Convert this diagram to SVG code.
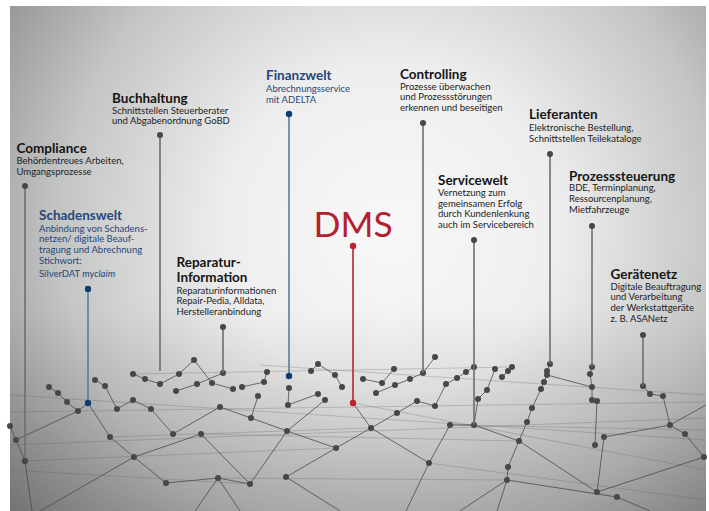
<svg xmlns="http://www.w3.org/2000/svg" width="709" height="511" viewBox="0 0 709 511">
<defs>
<radialGradient id="bg" gradientUnits="userSpaceOnUse" cx="390" cy="230" r="470" fx="390" fy="230">
<stop offset="0" stop-color="#f8f8f8"/>
<stop offset="0.35" stop-color="#eeeeee"/>
<stop offset="0.7" stop-color="#c4c5c5"/>
<stop offset="1" stop-color="#8c8d8d"/>
</radialGradient>
<linearGradient id="shade" x1="0" y1="0" x2="0" y2="1">
<stop offset="0.6" stop-color="#000" stop-opacity="0"/>
<stop offset="1" stop-color="#000" stop-opacity="0.18"/>
</linearGradient>
</defs>
<style>
.t{font-family:Lato,"Open Sans","Liberation Sans",sans-serif;font-weight:700;font-size:13.5px;fill:#151515}
.b{font-family:Lato,"Open Sans","Liberation Sans",sans-serif;font-size:9.5px;fill:#222}
.bl{fill:#27467a}
.e{stroke:#4a4a4a;stroke-width:0.8;fill:none}
.f{stroke:#5a5a5a;stroke-width:0.6;fill:none;stroke-opacity:0.45}
.n{fill:#474747}
.stem{stroke:#6e6e6e;stroke-width:1.6}
.stemb{stroke:#5a7aa0;stroke-width:1.6}
.stemr{stroke:#b8232f;stroke-width:1.6}
</style>
<rect x="0" y="0" width="709" height="511" fill="#fff"/>
<rect x="10" y="6" width="696" height="505" fill="url(#bg)"/>
<rect x="10" y="6" width="696" height="505" fill="url(#shade)"/>

<g id="connectors">
<g class="f">
<line x1="10" y1="412" x2="706" y2="402"/>
<line x1="10" y1="445" x2="706" y2="418"/>
<line x1="10" y1="395" x2="706" y2="440"/>
<line x1="25" y1="461" x2="336" y2="448"/>
<line x1="110" y1="437" x2="371" y2="428"/>
<line x1="201" y1="434" x2="519" y2="441"/>
<line x1="218" y1="478" x2="507" y2="480"/>
<line x1="353" y1="403" x2="706" y2="470"/>
<line x1="133" y1="374" x2="512" y2="367"/>
<line x1="260" y1="365" x2="706" y2="395"/>
<line x1="10" y1="470" x2="250" y2="484"/>
<line x1="429" y1="463" x2="706" y2="500"/>
<line x1="450" y1="425" x2="706" y2="430"/>
</g>
<g class="e">
<polyline points="49,387 58,393 67,402 78,411 88,403 110,437 134,457 166,483 218,478 250,484 287,431 336,448"/>
<polyline points="10,426 16,440 25,461 32,511"/>
<line x1="16" y1="440" x2="78" y2="411"/>
<line x1="40" y1="511" x2="134" y2="457"/>
<polyline points="95,380 105,386 117,409 133,400 151,409 173,434 220,407 251,418 287,431"/>
<polyline points="133,374 145,379 160,384 179,374 194,360 212,383 233,389"/>
<line x1="201" y1="434" x2="250" y2="484"/>
<line x1="218" y1="478" x2="195" y2="511"/>
<line x1="218" y1="478" x2="240" y2="511"/>
<line x1="134" y1="457" x2="201" y2="434"/>
<polyline points="176,391 197,384 223,373"/>
<polyline points="242,387 264,382 267,372"/>
<line x1="251" y1="418" x2="258" y2="396"/>
<polyline points="289,388 288,405 318,394"/>
<polyline points="311,371 318,364 335,375 342,387"/>
<line x1="325" y1="400" x2="287" y2="431"/>
<line x1="286" y1="477" x2="336" y2="448"/>
<line x1="286" y1="477" x2="340" y2="511"/>
<polyline points="336,448 371,428 397,413 417,401 435,406"/>
<line x1="353" y1="403" x2="371" y2="428"/>
<polyline points="371,428 429,463 406,511"/>
<line x1="429" y1="463" x2="450" y2="425"/>
<line x1="450" y1="425" x2="474" y2="425"/>
<polyline points="474,425 478,399 487,390 495,369"/>
<polyline points="363,379 382,383 394,369"/>
<polyline points="376,393 395,385 410,379 423,373 435,357"/>
<polyline points="435,406 446,384 457,378 466,372 474,367"/>
<polyline points="502,377 508,371 512,367"/>
<polyline points="550,364 547,371 547,375 544,382 541,389 532,408 527,422 519,441 508,467 507,480 497,511"/>
<line x1="519" y1="441" x2="474" y2="425"/>
<line x1="519" y1="441" x2="597" y2="492"/>
<line x1="597" y1="492" x2="604" y2="437"/>
<line x1="597" y1="492" x2="704" y2="457"/>
<polyline points="592,367 590,374 592,387 592,400 597,401 595,445"/>
<line x1="592" y1="387" x2="547" y2="375"/>
<polyline points="643,386 650,394 663,396 670,425 685,434 704,457"/>
<line x1="604" y1="437" x2="670" y2="425"/>
<line x1="507" y1="480" x2="617" y2="497"/>
<line x1="617" y1="497" x2="650" y2="511"/>
<line x1="670" y1="425" x2="706" y2="405"/>
<line x1="507" y1="480" x2="460" y2="511"/>
</g>
</g>

<g id="mesh-nodes" class="n">
<circle cx="49" cy="387" r="3"/><circle cx="58" cy="393" r="3"/><circle cx="67" cy="402" r="3"/><circle cx="78" cy="411" r="3"/>
<circle cx="95" cy="380" r="3"/><circle cx="105" cy="386" r="3"/><circle cx="117" cy="409" r="3"/><circle cx="133" cy="374" r="3"/>
<circle cx="145" cy="379" r="3"/><circle cx="133" cy="400" r="3"/><circle cx="151" cy="409" r="3"/><circle cx="160" cy="384" r="3"/>
<circle cx="179" cy="374" r="3"/><circle cx="194" cy="360" r="3"/><circle cx="176" cy="391" r="3"/><circle cx="197" cy="384" r="3"/>
<circle cx="212" cy="383" r="3"/><circle cx="223" cy="373" r="3"/><circle cx="233" cy="389" r="3"/><circle cx="242" cy="387" r="3"/>
<circle cx="220" cy="407" r="3"/><circle cx="251" cy="418" r="3"/><circle cx="267" cy="372" r="3"/><circle cx="264" cy="382" r="3"/>
<circle cx="258" cy="396" r="3"/><circle cx="289" cy="388" r="3"/><circle cx="288" cy="405" r="3"/><circle cx="311" cy="371" r="3"/>
<circle cx="318" cy="364" r="3"/><circle cx="335" cy="375" r="3"/><circle cx="342" cy="387" r="3"/><circle cx="318" cy="394" r="3"/>
<circle cx="325" cy="400" r="3"/>
<circle cx="10" cy="426" r="3"/><circle cx="16" cy="440" r="3"/><circle cx="25" cy="461" r="3"/><circle cx="110" cy="437" r="3"/>
<circle cx="134" cy="457" r="3"/><circle cx="173" cy="434" r="3"/><circle cx="201" cy="434" r="3"/><circle cx="166" cy="483" r="3"/>
<circle cx="218" cy="478" r="3"/><circle cx="250" cy="484" r="3"/><circle cx="287" cy="431" r="3"/><circle cx="286" cy="477" r="3"/>
<circle cx="336" cy="448" r="3"/>
<circle cx="363" cy="379" r="3"/><circle cx="382" cy="383" r="3"/><circle cx="394" cy="369" r="3"/><circle cx="395" cy="385" r="3"/>
<circle cx="376" cy="393" r="3"/><circle cx="410" cy="379" r="3"/><circle cx="423" cy="373" r="3"/><circle cx="435" cy="357" r="3"/>
<circle cx="417" cy="401" r="3"/><circle cx="397" cy="413" r="3"/><circle cx="371" cy="428" r="3"/><circle cx="435" cy="406" r="3"/>
<circle cx="446" cy="384" r="3"/><circle cx="457" cy="378" r="3"/><circle cx="466" cy="372" r="3"/><circle cx="474" cy="367" r="3"/>
<circle cx="478" cy="399" r="3"/><circle cx="487" cy="390" r="3"/><circle cx="495" cy="369" r="3"/><circle cx="502" cy="377" r="3"/>
<circle cx="508" cy="371" r="3"/><circle cx="512" cy="367" r="3"/><circle cx="474" cy="425" r="3"/><circle cx="450" cy="425" r="3"/>
<circle cx="429" cy="463" r="3"/>
<circle cx="550" cy="364" r="3"/><circle cx="547" cy="371" r="3"/><circle cx="547" cy="375" r="3"/><circle cx="544" cy="382" r="3"/>
<circle cx="541" cy="389" r="3"/><circle cx="532" cy="408" r="3"/><circle cx="527" cy="422" r="3"/><circle cx="519" cy="441" r="3"/>
<circle cx="508" cy="467" r="3"/><circle cx="507" cy="480" r="3"/>
<circle cx="592" cy="367" r="3"/><circle cx="590" cy="374" r="3"/><circle cx="592" cy="387" r="3"/><circle cx="592" cy="400" r="3"/>
<circle cx="597" cy="401" r="3"/><circle cx="595" cy="445" r="3"/><circle cx="604" cy="437" r="3"/><circle cx="597" cy="492" r="3"/>
<circle cx="617" cy="497" r="3"/>
<circle cx="643" cy="386" r="3"/><circle cx="650" cy="394" r="3"/><circle cx="663" cy="396" r="3"/><circle cx="670" cy="425" r="3"/>
<circle cx="685" cy="434" r="3"/><circle cx="704" cy="457" r="3"/>
</g>

<g id="compliance">
<line class="stem" x1="25" y1="186" x2="25" y2="461"/>
<circle class="n" cx="25" cy="186" r="3"/><circle class="n" cx="25" cy="461" r="3"/>
<text class="t" x="16.5" y="152.5">Compliance</text>
<text class="b" x="16.5" y="164">Behördentreues Arbeiten,</text>
<text class="b" x="16.5" y="175">Umgangsprozesse</text>
</g>

<g id="buchhaltung">
<line class="stem" x1="160" y1="135" x2="160" y2="371"/>
<circle class="n" cx="160" cy="135" r="3"/>
<text class="t" x="112" y="102.5">Buchhaltung</text>
<text class="b" x="112" y="114">Schnittstellen Steuerberater</text>
<text class="b" x="112" y="124">und Abgabenordnung GoBD</text>
</g>

<g id="finanzwelt">
<line class="stemb" x1="289" y1="114" x2="289" y2="376"/>
<circle fill="#0f3d70" cx="289" cy="114" r="3.2"/><circle fill="#0f3d70" cx="289" cy="376" r="3.2"/>
<text class="t bl" x="266" y="80">Finanzwelt</text>
<text class="b bl" x="266" y="92">Abrechnungsservice</text>
<text class="b bl" x="266" y="102.5">mit ADELTA</text>
</g>

<g id="controlling">
<line class="stem" x1="423" y1="123" x2="423" y2="373"/>
<circle class="n" cx="423" cy="123" r="3"/>
<text class="t" x="400" y="78.5">Controlling</text>
<text class="b" x="400" y="89.5">Prozesse überwachen</text>
<text class="b" x="400" y="100">und Prozessstörungen</text>
<text class="b" x="400" y="110.5">erkennen und beseitigen</text>
</g>

<g id="lieferanten">
<line class="stem" x1="550" y1="154" x2="550" y2="364"/>
<circle class="n" cx="550" cy="154" r="3"/>
<text class="t" x="529" y="119">Lieferanten</text>
<text class="b" x="529" y="130.5">Elektronische Bestellung,</text>
<text class="b" x="529" y="141.5">Schnittstellen Teilekataloge</text>
</g>

<g id="schadenswelt">
<line class="stemb" x1="88" y1="289" x2="88" y2="403"/>
<circle fill="#0f3d70" cx="88" cy="289" r="3.2"/><circle fill="#0f3d70" cx="88" cy="403" r="3.2"/>
<text class="t bl" x="39" y="219.5">Schadenswelt</text>
<text class="b bl" x="39" y="231.5">Anbindung von Schadens-</text>
<text class="b bl" x="39" y="242.3">netzen/ digitale Beauf-</text>
<text class="b bl" x="39" y="253.2">tragung und Abrechnung</text>
<text class="b bl" x="39" y="264">Stichwort:</text>
<text class="b bl" x="39" y="276.5">SilverDAT <tspan font-style="italic">myclaim</tspan></text>
</g>

<g id="reparatur">
<line class="stem" x1="223" y1="327" x2="223" y2="373"/>
<circle class="n" cx="223" cy="327" r="3"/>
<text class="t" x="176.5" y="266.5">Reparatur-</text>
<text class="t" x="176.5" y="281.5">Information</text>
<text class="b" x="176.5" y="293.8">Reparaturinformationen</text>
<text class="b" x="176.5" y="304.3">Repair-Pedia, Alldata,</text>
<text class="b" x="176.5" y="314.8">Herstelleranbindung</text>
</g>

<g id="dms">
<line class="stemr" x1="353" y1="246" x2="353" y2="403"/>
<circle fill="#c0202e" cx="353" cy="246" r="3.2"/><circle fill="#c0202e" cx="353" cy="403" r="3.2"/>
<text x="313.5" y="236.5" font-family="Lato,'Open Sans','Liberation Sans',sans-serif" font-size="35.5" fill="#b5202e">DMS</text>
</g>

<g id="servicewelt">
<line class="stem" x1="474" y1="240" x2="474" y2="425"/>
<circle class="n" cx="474" cy="240" r="3"/>
<text class="t" x="438" y="185">Servicewelt</text>
<text class="b" x="438" y="196">Vernetzung zum</text>
<text class="b" x="438" y="206.5">gemeinsamen Erfolg</text>
<text class="b" x="438" y="217">durch Kundenlenkung</text>
<text class="b" x="438" y="227.7">auch im Servicebereich</text>
</g>

<g id="prozesssteuerung">
<line class="stem" x1="592" y1="226" x2="592" y2="367"/>
<circle class="n" cx="592" cy="226" r="3"/>
<text class="t" x="569" y="180.5">Prozesssteuerung</text>
<text class="b" x="569" y="191.3">BDE, Terminplanung,</text>
<text class="b" x="569" y="202">Ressourcenplanung,</text>
<text class="b" x="569" y="213">Mietfahrzeuge</text>
</g>

<g id="geraetenetz">
<line class="stem" x1="643" y1="335" x2="643" y2="386"/>
<circle class="n" cx="643" cy="335" r="3"/>
<text class="t" x="610.5" y="279">Gerätenetz</text>
<text class="b" x="610.5" y="290">Digitale Beauftragung</text>
<text class="b" x="610.5" y="300.3">und Verarbeitung</text>
<text class="b" x="610.5" y="311">der Werkstattgeräte</text>
<text class="b" x="610.5" y="321.5">z. B. ASANetz</text>
</g>
</svg>
